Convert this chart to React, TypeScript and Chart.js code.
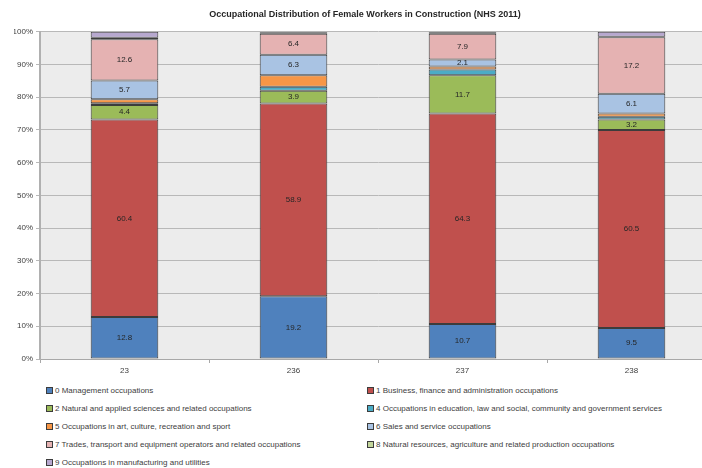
import React, { useEffect, useRef } from "react";
import { Chart, registerables } from "chart.js";

Chart.register(...registerables);

const categories = ["23", "236", "237", "238"];
const seriesNames = [
  "0 Management occupations",
  "1 Business, finance and administration occupations",
  "2 Natural and applied sciences and related occupations",
  "4 Occupations in education, law and social, community and government services",
  "5 Occupations in art, culture, recreation and sport",
  "6 Sales and service occupations",
  "7 Trades, transport and equipment operators and related occupations",
  "8 Natural resources, agriculture and related production occupations",
  "9 Occupations in manufacturing and utilities",
];
const s0 = [12.8, 19.2, 10.7, 9.5];
const s1 = [60.4, 58.9, 64.3, 60.5];
const s2 = [4.4, 3.9, 11.7, 3.2];
const s4 = [0.6, 1.2, 1.8, 0.8];
const s5 = [1.2, 3.5, 0.9, 1.0];
const s6 = [5.7, 6.3, 2.1, 6.1];
const s7 = [12.6, 6.4, 7.9, 17.2];
const s8 = [0.5, 0.2, 0.3, 0.2];
const s9 = [1.8, 0.3, 0.3, 1.5];
const seriesValues = [s0, s1, s2, s4, s5, s6, s7, s8, s9];
const seriesColors = ["#4F81BD", "#C0504D", "#9BBB59", "#4BACC6", "#F79646", "#A9C3E3", "#E5B2B2", "#C3D69B", "#B7A8CF"];
const labelled = [true, true, true, false, false, true, true, false, false];
const yTicks = [0, 10, 20, 30, 40, 50, 60, 70, 80, 90, 100];

const FONT = "'Liberation Sans', Arial, sans-serif";

export default function App() {
  const ref = useRef<HTMLCanvasElement | null>(null);
  useEffect(() => {
    if (!ref.current) return;
    const bgPlugin = {
      id: "plotBg",
      beforeDraw(chart: any) {
        const { ctx, chartArea } = chart;
        ctx.save();
        ctx.fillStyle = "#ececec";
        ctx.fillRect(chartArea.left, chartArea.top, chartArea.right - chartArea.left, chartArea.bottom - chartArea.top);
        ctx.restore();
      },
    };
    const labelPlugin = {
      id: "segLabels",
      afterDatasetsDraw(chart: any) {
        const { ctx } = chart;
        ctx.save();
        ctx.font = `8px ${FONT}`;
        ctx.fillStyle = "#262626";
        ctx.textAlign = "center";
        ctx.textBaseline = "middle";
        chart.data.datasets.forEach((ds: any, i: number) => {
          if (!labelled[i]) return;
          const meta = chart.getDatasetMeta(i);
          meta.data.forEach((el: any, j: number) => {
            const v = ds.data[j];
            const p = el.getProps(["x", "y", "base"], true);
            ctx.fillText(v.toFixed(1), p.x, (p.y + p.base) / 2);
          });
        });
        ctx.restore();
      },
    };
    const chart = new Chart(ref.current, {
      type: "bar",
      data: {
        labels: categories,
        datasets: seriesValues.map((vals, i) => ({
          label: seriesNames[i],
          data: vals,
          backgroundColor: seriesColors[i],
          borderColor: "#3c3c3c",
          borderWidth: 1,
          borderSkipped: false,
          categoryPercentage: 1,
          barPercentage: 0.4,
        })),
      },
      options: {
        responsive: false,
        animation: false,
        layout: { padding: { left: 14, right: 14, top: 0, bottom: 0 } },
        plugins: {
          legend: { display: false },
          tooltip: { enabled: false },
          title: {
            display: true,
            text: "Occupational Distribution of Female Workers in Construction (NHS 2011)",
            color: "#262626",
            font: { family: FONT, size: 9, weight: "bold" },
            padding: { top: 9, bottom: 12 },
          },
        },
        scales: {
          x: {
            stacked: true,
            grid: { display: true, drawOnChartArea: false, drawTicks: true, tickLength: 4, offset: true, color: "#a8a8a8" },
            border: { display: true, color: "#a8a8a8", width: 1 },
            ticks: { color: "#404040", font: { family: FONT, size: 8 }, padding: 3 },
            afterFit(scale: any) {
              scale.height = 20;
            },
          },
          y: {
            stacked: true,
            min: 0,
            max: 100,
            afterBuildTicks(scale: any) {
              scale.ticks = yTicks.map((v) => ({ value: v }));
            },
            ticks: {
              color: "#404040",
              font: { family: FONT, size: 8 },
              padding: 3,
              callback: (v: any) => v + "%",
            },
            grid: { color: "#b8b8b8", tickLength: 4, drawTicks: true },
            border: { display: true, color: "#b0b0b0", width: 2 },
            afterFit(scale: any) {
              scale.width = 26;
            },
          },
        },
      },
      plugins: [bgPlugin, labelPlugin],
    });
    return () => chart.destroy();
  }, []);

  const rows: number[][] = [];
  for (let i = 0; i < seriesNames.length; i += 2) rows.push([i, i + 1].filter((k) => k < seriesNames.length));

  return (
    <div style={{ position: "fixed", left: 0, top: 0, width: 702, height: 468, overflow: "hidden", background: "#fff" }}>
      <canvas ref={ref} width={730} height={379} style={{ position: "absolute", left: 0, top: 0, width: 730, height: 379 }} />
      <div style={{ position: "absolute", left: 0, top: 381, width: 702 }}>
        {rows.map((r, ri) => (
          <div key={ri} style={{ position: "relative", height: 18 }}>
            {r.map((k, ci) => (
              <div
                key={k}
                style={{
                  position: "absolute",
                  left: ci === 0 ? 46 : 367,
                  top: 0,
                  height: 18,
                  display: "flex",
                  alignItems: "center",
                  fontFamily: FONT,
                  fontSize: 8,
                  color: "#404040",
                  whiteSpace: "nowrap",
                }}
              >
                <span
                  style={{
                    display: "inline-block",
                    width: 5,
                    height: 5,
                    background: seriesColors[k],
                    border: "1px solid #3c3c3c",
                    marginRight: 2,
                  }}
                />
                {seriesNames[k]}
              </div>
            ))}
          </div>
        ))}
      </div>
    </div>
  );
}
